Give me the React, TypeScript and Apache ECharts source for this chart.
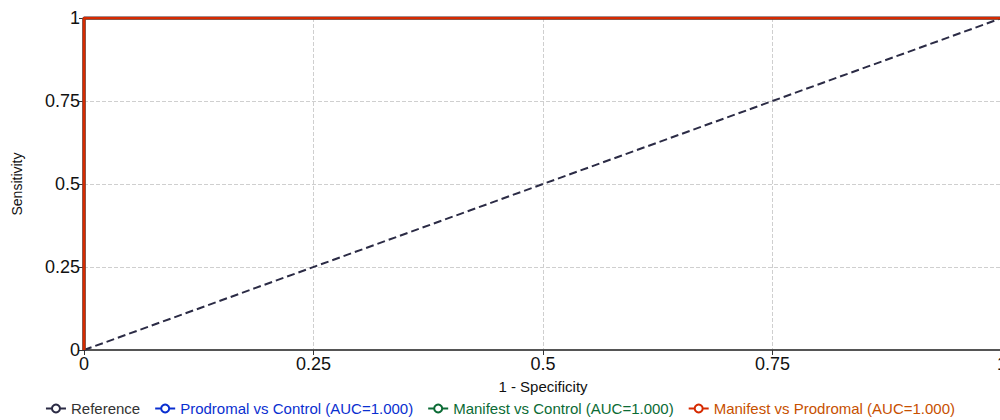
import React, { useEffect, useRef } from "react";
import * as echarts from "echarts";

const xTicks = ["0", "0.25", "0.5", "0.75", "1"];
const yTicks = ["0", "0.25", "0.5", "0.75", "1"];
const referenceLine: number[][] = [[0, 0], [1, 1]];
const prodromalVsControl: number[][] = [[0, 0], [0, 1], [1, 1]];
const manifestVsControl: number[][] = [[0, 0], [0, 1], [1, 1]];
const manifestVsProdromal: number[][] = [[0, 0], [0, 1], [1, 1]];
const seriesNames = [
  "Reference",
  "Prodromal vs Control (AUC=1.000)",
  "Manifest vs Control (AUC=1.000)",
  "Manifest vs Prodromal (AUC=1.000)",
];
const legendColors = ["#333333", "#0a2fd0", "#0b6b35", "#c75000"];

export default function App() {
  const ref = useRef<HTMLDivElement>(null);
  useEffect(() => {
    if (!ref.current) return;
    const chart = echarts.init(ref.current, null, { renderer: "svg" });
    const font = "Helvetica, Arial, 'Liberation Sans', sans-serif";
    const axisLabelFmt = (ticks: string[]) => (v: number) => ticks[Math.round(v * 4)] ?? "";
    chart.setOption({
      animation: false,
      textStyle: { fontFamily: font },
      grid: { left: 84, top: 18, width: 918, height: 332, containLabel: false, outerBoundsMode: "none" },
      xAxis: {
        type: "value",
        min: 0,
        max: 1,
        interval: 0.25,
        name: "1 - Specificity",
        nameLocation: "middle",
        nameGap: 29,
        nameTextStyle: { fontSize: 15, color: "#111", fontFamily: font },
        axisLine: { lineStyle: { color: "#555", width: 2 } },
        axisTick: { show: true, length: 5, lineStyle: { color: "#333" } },
        axisLabel: { fontSize: 18, color: "#111", margin: 5, formatter: axisLabelFmt(xTicks), fontFamily: font, hideOverlap: false },
        splitLine: { show: true, lineStyle: { type: "dashed", color: "#cfcfcf" } },
      },
      yAxis: {
        type: "value",
        min: 0,
        max: 1,
        interval: 0.25,
        name: "Sensitivity",
        nameLocation: "middle",
        nameGap: 60,
        nameRotate: 90,
        nameTextStyle: { fontSize: 14, color: "#111", fontFamily: font },
        axisLine: { show: true, lineStyle: { color: "#555", width: 2 } },
        axisTick: { show: true, length: 5, lineStyle: { color: "#333" } },
        axisLabel: { fontSize: 18, color: "#111", margin: 4, formatter: axisLabelFmt(yTicks), fontFamily: font },
        splitLine: { show: true, lineStyle: { type: "dashed", color: "#cfcfcf" } },
      },
      legend: {
        bottom: -1,
        left: "center",
        itemWidth: 20,
        itemHeight: 10,
        itemGap: 14,
        data: seriesNames.map((n, i) => ({ name: n, textStyle: { color: legendColors[i], fontSize: 15, fontFamily: font } })),
      },
      series: [
        {
          name: seriesNames[0],
          type: "line",
          data: referenceLine,
          symbol: "emptyCircle",
          showSymbol: false,
          color: "#2b2b45",
          lineStyle: { type: "dashed", width: 2, color: "#2b2b45" },
          z: 2,
        },
        {
          name: seriesNames[1],
          type: "line",
          data: prodromalVsControl,
          symbol: "emptyCircle",
          showSymbol: false,
          color: "#0a2fd0",
          lineStyle: { width: 3, color: "#0a2fd0" },
          z: 3,
        },
        {
          name: seriesNames[2],
          type: "line",
          data: manifestVsControl,
          symbol: "emptyCircle",
          showSymbol: false,
          color: "#0b6b35",
          lineStyle: { width: 3, color: "#0b6b35" },
          z: 4,
        },
        {
          name: seriesNames[3],
          type: "line",
          data: manifestVsProdromal,
          symbol: "emptyCircle",
          showSymbol: false,
          color: "#d62a00",
          lineStyle: { width: 3, color: "#d62a00" },
          z: 5,
        },
      ],
    });
    return () => chart.dispose();
  }, []);
  return <div ref={ref} style={{ position: "fixed", left: 0, top: 0, width: 1000, height: 420, background: "#fff" }} />;
}
